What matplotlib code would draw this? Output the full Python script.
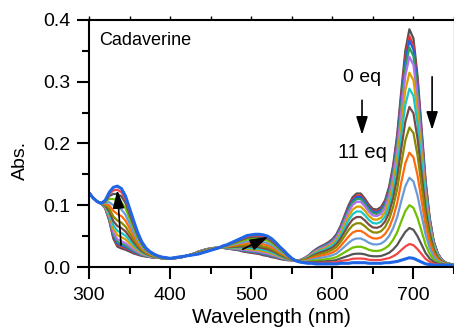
import numpy as np
import matplotlib
matplotlib.use("Agg")
import matplotlib.pyplot as plt
from matplotlib.ticker import MultipleLocator

plt.rcParams['font.family'] = ['Liberation Sans', 'DejaVu Sans']

# wavelength grid, 5 nm steps
wl = np.arange(300, 755, 5)

# 0 eq spectrum (300..750 nm every 5 nm)
abs_0eq = [
    0.120, 0.112, 0.106, 0.103, 0.095, 0.075, 0.046, 0.033, 0.030, 0.028,   # 300-345
    0.025, 0.022, 0.020, 0.018, 0.017, 0.016, 0.015, 0.015, 0.014, 0.014,   # 350-395
    0.014, 0.014, 0.015, 0.016, 0.018, 0.020, 0.022, 0.025, 0.027, 0.029,   # 400-445
    0.030, 0.031, 0.031, 0.031, 0.030, 0.029, 0.028, 0.027, 0.025, 0.024,   # 450-495
    0.023, 0.022, 0.021, 0.019, 0.018, 0.016, 0.015, 0.013, 0.012, 0.011,   # 500-545
    0.011, 0.011, 0.011, 0.014, 0.018, 0.024, 0.029, 0.033, 0.036, 0.040,   # 550-595
    0.045, 0.053, 0.066, 0.083, 0.100, 0.113, 0.119, 0.119, 0.111, 0.101,   # 600-645
    0.094, 0.093, 0.097, 0.108, 0.130, 0.165, 0.215, 0.285, 0.350, 0.385,   # 650-695
    0.370, 0.310, 0.225, 0.140, 0.080, 0.042, 0.022, 0.012, 0.007, 0.005,   # 700-745
    0.004,                                                                  # 750
]

# 11 eq spectrum
abs_11eq = [
    0.120, 0.112, 0.106, 0.103, 0.108, 0.121, 0.129, 0.131, 0.127, 0.115,   # 300-345
    0.095, 0.075, 0.056, 0.041, 0.031, 0.025, 0.021, 0.018, 0.016, 0.015,   # 350-395
    0.014, 0.015, 0.016, 0.017, 0.018, 0.019, 0.020, 0.021, 0.023, 0.025,   # 400-445
    0.027, 0.029, 0.031, 0.034, 0.036, 0.039, 0.042, 0.045, 0.048, 0.051,   # 450-495
    0.052, 0.053, 0.053, 0.052, 0.050, 0.046, 0.040, 0.033, 0.027, 0.020,   # 500-545
    0.014, 0.010, 0.008, 0.007, 0.006, 0.006, 0.005, 0.005, 0.005, 0.005,   # 550-595
    0.005, 0.005, 0.006, 0.006, 0.006, 0.007, 0.007, 0.007, 0.007, 0.006,   # 600-645
    0.006, 0.006, 0.006, 0.007, 0.007, 0.008, 0.009, 0.011, 0.013, 0.015,   # 650-695
    0.014, 0.011, 0.008, 0.005, 0.004, 0.003, 0.003, 0.003, 0.003, 0.003,   # 700-745
    0.003,                                                                  # 750
]

# fraction of the 11 eq species in each trace (from the 695 nm peak heights)
frac = [0, 0.03, 0.05, 0.08, 0.12, 0.19, 0.26, 0.34, 0.43, 0.54, 0.65, 0.77, 0.87, 0.94, 1.0]

colors = ['#505050', '#ee3333', '#2060e0', '#2aa05a', '#b070f0', '#d9a000', '#18c8c8',
          '#7a4a4a', '#8a8a00', '#ff6a10', '#6a9ad8', '#70c000', '#555555', '#f04545', '#1f66e6']

a0 = np.array(abs_0eq)
a11 = np.array(abs_11eq)

fig = plt.figure(figsize=(4.54, 3.36), dpi=100)
ax = fig.add_axes([89/454, 69/336, 365/454, 247/336])

for i, f in enumerate(frac):
    y = a0 * (1 - f) + a11 * f
    lw = 2.2 if i == len(frac) - 1 else 1.6
    ax.plot(wl, y, color=colors[i], lw=lw, solid_capstyle='round')

ax.set_xlim(300, 750)
ax.set_ylim(0, 0.4)
ax.xaxis.set_major_locator(MultipleLocator(100))
ax.xaxis.set_minor_locator(MultipleLocator(50))
ax.yaxis.set_major_locator(MultipleLocator(0.1))
ax.yaxis.set_minor_locator(MultipleLocator(0.05))
ax.yaxis.set_major_formatter(plt.FormatStrFormatter('%.1f'))

for s in ax.spines.values():
    s.set_linewidth(1.5)
ax.spines['right'].set_color('#999999')
ax.spines['right'].set_linewidth(1.0)

ax.tick_params(which='major', direction='out', length=8.5, width=1.5, labelsize=14)
ax.tick_params(which='minor', direction='out', length=5, width=1.5)
ax.tick_params(axis='x', which='major', pad=6)
ax.tick_params(axis='y', which='major', pad=5)
ax.tick_params(which='both', top=True, right=False, labeltop=False)
# top ticks are small and point inward
for t in ax.xaxis.get_major_ticks() + ax.xaxis.get_minor_ticks():
    t.tick2line.set_marker(2)
    t.tick2line.set_markersize(3)
    t.tick2line.set_markeredgewidth(1.0)

ax.set_xlabel('Wavelength (nm)', fontsize=15, labelpad=3)
ax.set_ylabel('Abs.', fontsize=14, labelpad=6)
ax.yaxis.set_label_coords(-0.165, 0.43)

ax.text(312, 0.36, 'Cadaverine', fontsize=13, va='baseline')
ax.text(613, 0.30, '0 eq', fontsize=14, va='baseline')
ax.text(607, 0.177, '11 eq', fontsize=14.5, va='baseline')

arrow = dict(arrowstyle='-|>,head_length=1.1,head_width=0.35', color='k', lw=1.2,
             mutation_scale=10, shrinkA=0, shrinkB=0)
ax.annotate('', xy=(636.6, 0.214), xytext=(636.6, 0.270), arrowprops=arrow)
ax.annotate('', xy=(723, 0.222), xytext=(723, 0.308), arrowprops=arrow)
ax.annotate('', xy=(334.9, 0.1247), xytext=(339.5, 0.0356), arrowprops=arrow)
ax.annotate('', xy=(521, 0.049), xytext=(489.5, 0.0287), arrowprops=arrow)

fig.savefig('out.png', dpi=100)
